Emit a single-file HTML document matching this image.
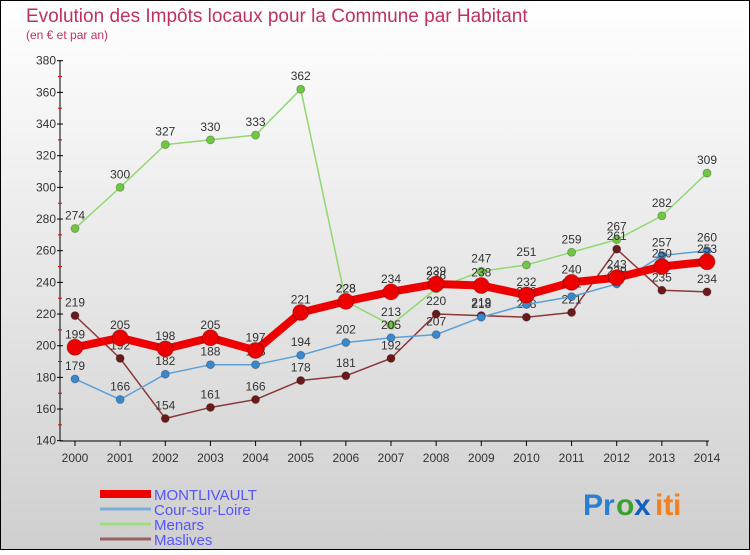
<!DOCTYPE html>
<html><head><meta charset="utf-8"><style>
body{margin:0;width:750px;height:550px;overflow:hidden;font-family:"Liberation Sans",sans-serif}
</style></head><body>
<svg width="750" height="550" xmlns="http://www.w3.org/2000/svg" id="chart">
<defs><linearGradient id="bg" x1="0" y1="0" x2="0" y2="1"><stop offset="0" stop-color="#ffffff"/><stop offset="1" stop-color="#cfcfcf"/></linearGradient></defs>
<rect x="0.5" y="0.5" width="749" height="549" fill="url(#bg)" stroke="#000"/>
<text x="26" y="22" font-size="19" fill="#c03060">Evolution des Impôts locaux pour la Commune par Habitant</text>
<text x="26" y="39" font-size="12" fill="#c03060">(en € et par an)</text>
<g id="axes"></g><g id="series"></g><g id="legend"></g>
<g font-size="30" font-weight="bold">
<text x="583" y="515" fill="#2a7fd0">Pr</text><text x="616" y="515" fill="#3aa030">o</text><text x="634" y="515" fill="#1060c0">x</text><text x="655" y="515" fill="#f08020">it</text><text x="673" y="515" fill="#f08020">i</text>
</g>
</svg>
<script>
const years=[2000,2001,2002,2003,2004,2005,2006,2007,2008,2009,2010,2011,2012,2013,2014];
const yTicks=[140,160,180,200,220,240,260,280,300,320,340,360,380];
const montlivault=[199,205,198,205,197,221,228,234,239,238,232,240,243,250,253];
const cour=[179,166,182,188,188,194,202,205,207,218,226,231,239,257,260];
const menars=[274,300,327,330,333,362,228,213,236,247,251,259,267,282,309];
const maslives=[219,192,154,161,166,178,181,192,220,219,218,221,261,235,234];
const NS="http://www.w3.org/2000/svg";
const X=i=>75+i*(707-75)/(years.length-1);
const Y=v=>440.7-(v-140)*(380/240);
function mk(t,a,p){const e=document.createElementNS(NS,t);for(const k in a)e.setAttribute(k,a[k]);p.appendChild(e);return e;}
const ax=document.getElementById('axes');
mk('line',{x1:60,y1:60,x2:60,y2:441,stroke:'#000'},ax);
mk('line',{x1:60,y1:441,x2:709,y2:441,stroke:'#000'},ax);
yTicks.forEach(v=>{
 mk('line',{x1:57,y1:Y(v),x2:63,y2:Y(v),stroke:'#000'},ax);
 if(v<380)mk('line',{x1:58,y1:Y(v+10),x2:62,y2:Y(v+10),stroke:'#e00000'},ax);
 const t=mk('text',{x:56,y:Y(v)+4,'font-size':12,'text-anchor':'end',fill:'#333'},ax);t.textContent=v;
 
 
});
years.forEach((yr,i)=>{
 mk('line',{x1:X(i),y1:441,x2:X(i),y2:446,stroke:'#000'},ax);
 const t=mk('text',{x:X(i),y:462,'font-size':12,'text-anchor':'middle',fill:'#333'},ax);t.textContent=yr;
 
 
});
const sg=document.getElementById('series');
const series=[
 {name:'menars',data:menars,color:'#90d870',dot:'#70c840',w:1.5,r:4},
 {name:'maslives',data:maslives,color:'#8a3838',dot:'#6a1a1a',w:1.5,r:4},
 {name:'cour-sur-loire',data:cour,color:'#5aa0d8',dot:'#3a88cc',w:1.5,r:4},
 {name:'montlivault',data:montlivault,color:'#ee0000',dot:'#ee0000',w:8,r:8}
];
series.forEach(s=>{
 const g=mk('g',{},sg);
 
 
 const p=mk('polyline',{points:s.data.map((v,i)=>X(i)+','+Y(v)).join(' '),fill:'none',stroke:s.color,'stroke-width':s.w,'stroke-linejoin':'round'},g);
 
 
 s.data.forEach((v,i)=>{
  const c=mk('circle',{cx:X(i),cy:Y(v),r:s.r,fill:s.dot,stroke:'rgba(0,0,0,0.25)'},g);
  
  
  const t=mk('text',{x:X(i),y:Y(v)-9,'font-size':12,'text-anchor':'middle',fill:'#333'},g);t.textContent=v;
  
  
 });
});
const lg=document.getElementById('legend');
const leg=[['MONTLIVAULT','#ee0000',8],['Cour-sur-Loire','#7aaed8',3],['Menars','#a0dc80',3],['Maslives','#9a6060',3]];
leg.forEach((l,i)=>{
 const y=494+i*15;
 const g=mk('g',{},lg);
 
 
 mk('line',{x1:100,y1:y,x2:151,y2:y,stroke:l[1],'stroke-width':l[2]},g);
 const t=mk('text',{x:154,y:y+6,'font-size':15,fill:'#5555ff'},g);t.textContent=l[0];
});
</script>
</body></html>
